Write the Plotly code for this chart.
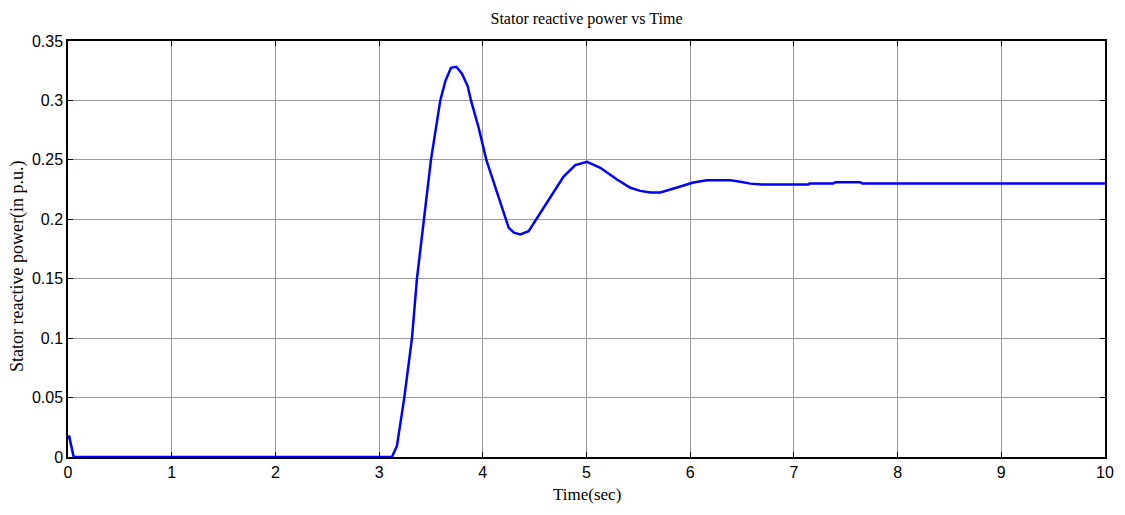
import plotly.graph_objects as go

# Stator reactive power response (p.u.) against simulation time (s)
time_s = [0.0, 0.01, 0.03, 0.055, 3.124, 3.172, 3.243, 3.317, 3.365, 3.429,
          3.500, 3.590, 3.639, 3.693, 3.745, 3.799, 3.854, 3.886, 3.960, 4.034,
          4.105, 4.169, 4.217, 4.249, 4.300, 4.361, 4.442, 4.554, 4.667, 4.779,
          4.892, 5.005, 5.133, 5.198, 5.294, 5.423, 5.519, 5.616, 5.712, 5.873,
          6.03, 6.16, 6.387, 6.483, 6.58, 6.69, 7.14, 7.15, 7.38, 7.40,
          7.64, 7.66, 10.0]
q_stator = [0.015, 0.018, 0.010, 0.0, 0.0, 0.0093, 0.050, 0.100, 0.150, 0.200,
            0.250, 0.300, 0.3163, 0.3275, 0.3283, 0.3225, 0.3121, 0.300, 0.277, 0.250,
            0.2306, 0.2131, 0.200, 0.193, 0.1888, 0.1873, 0.190, 0.2055, 0.220, 0.236,
            0.2456, 0.2484, 0.2433, 0.2393, 0.2335, 0.2265, 0.2239, 0.2225, 0.2225, 0.2267,
            0.2309, 0.2329, 0.2329, 0.2315, 0.2300, 0.2292, 0.2292, 0.2301, 0.2301, 0.2312,
            0.2312, 0.2301, 0.2301]

x_ticks = list(range(0, 11))
y_ticks = [0, 0.05, 0.1, 0.15, 0.2, 0.25, 0.3, 0.35]
y_tick_text = ["0", "0.05", "0.1", "0.15", "0.2", "0.25", "0.3", "0.35"]

fig = go.Figure()
fig.add_trace(go.Scatter(
    x=time_s, y=q_stator, mode="lines",
    line=dict(color="#0000FF", width=2.5),
    cliponaxis=False, showlegend=False,
))

axis_common = dict(
    showline=True, linecolor="black", linewidth=1.5, mirror="ticks",
    ticks="inside", ticklen=5, tickcolor="black", tickwidth=1,
    showgrid=True, gridcolor="#9a9a9a", gridwidth=1,
    zeroline=False,
    tickfont=dict(family="Liberation Sans, Arial", size=16, color="black"),
)

fig.update_xaxes(range=[0, 10], tickvals=x_ticks, **axis_common)
fig.update_yaxes(range=[0, 0.35], tickvals=y_ticks, ticktext=y_tick_text, **axis_common)

serif = "Liberation Serif, Times New Roman, serif"
fig.update_layout(
    width=1125, height=515,
    margin=dict(l=68, r=20, t=41, b=58),
    paper_bgcolor="white", plot_bgcolor="white",
    title=dict(text="Stator reactive power vs Time", x=0.5, xref="paper",
               y=1 - 18 / 515, yref="container", yanchor="middle", xanchor="center",
               font=dict(family=serif, size=16, color="black")),
    annotations=[
        dict(text="Time(sec)", xref="paper", yref="paper", x=0.5, y=(457 - 495) / 416,
             showarrow=False, xanchor="center", yanchor="middle",
             font=dict(family=serif, size=17, color="black")),
        dict(text="Stator reactive power(in p.u.)", xref="paper", yref="paper",
             x=(17 - 68) / 1037, y=(457 - 267) / 416, textangle=-90,
             showarrow=False, xanchor="center", yanchor="middle",
             font=dict(family=serif, size=18, color="black")),
    ],
)

fig.write_html("out.html")
